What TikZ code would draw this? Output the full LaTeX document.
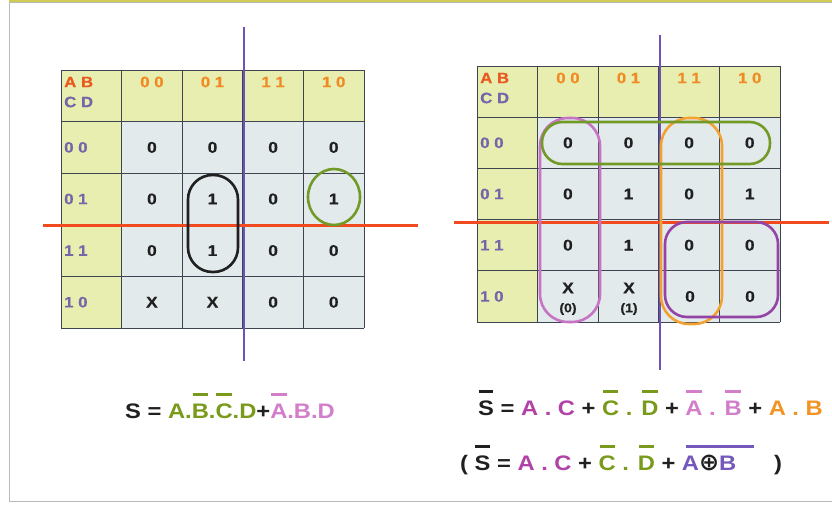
\documentclass[tikz,border=0pt]{standalone}
\usepackage{fontspec}
\setmainfont{Liberation Sans}
\newfontfamily\cellfont[FakeStretch=1.12, FakeBold=0.6]{Liberation Sans Bold}
\newfontfamily\eqfont[FakeStretch=1.13]{Liberation Sans Bold}
\newfontfamily\symfont{DejaVu Sans Bold}
\usetikzlibrary{calc}
\definecolor{hdrfill}{HTML}{E8EEB0}
\definecolor{cellfill}{HTML}{E3EAEC}
\definecolor{gridc}{HTML}{3E4450}
\definecolor{axpurple}{HTML}{7052B4}
\definecolor{axred}{HTML}{F04A1E}
\definecolor{hdrorange}{HTML}{F08A22}
\definecolor{hdrred}{HTML}{E85A20}
\definecolor{hdrpurple}{HTML}{7466A8}
\definecolor{eqgreen}{HTML}{7A9A1C}
\definecolor{eqpink}{HTML}{D27ECA}
\definecolor{eqmag}{HTML}{B042A8}
\definecolor{eqorange}{HTML}{F29424}
\definecolor{eqpurple}{HTML}{7458BC}
\definecolor{eqblack}{HTML}{202020}
\definecolor{loopgreen}{HTML}{729A26}
\definecolor{looppink}{HTML}{C674C4}
\definecolor{looporange}{HTML}{F2A232}
\definecolor{looppurple}{HTML}{9444A4}
\newcommand\obar[2]{{\setbox0\hbox{#2}\rlap{\hbox to\wd0{\hss\textcolor{#1}{\rule[1.06em]{0.9\wd0}{2.4pt}}\hss}}\box0}}
\tikzset{
  cell/.style={font=\cellfont\fontsize{15.5}{18}\selectfont, text=eqblack, inner sep=0pt},
  small/.style={font=\cellfont\fontsize{12.5}{14}\selectfont, text=eqblack, inner sep=0pt},
  hdr/.style={font=\cellfont\fontsize{15}{17}\selectfont, inner sep=0pt},
  eq/.style={font=\eqfont\fontsize{21}{24}\selectfont, text=eqblack, inner sep=0pt},
  axisv/.style={draw=axpurple, line width=2.4pt},
  axish/.style={draw=axred, line width=3pt},
  loopline/.style={line width=2.6pt},
}
\newcommand\drawmap[4]{%
  \fill[hdrfill] (#2,#3) rectangle ++(5*60.6,#4);
  \fill[hdrfill] (#2,#3) rectangle ++(60.6,5*#4);
  \fill[cellfill] (#2+60.6,#3+#4) rectangle ++(4*60.6,4*#4);
  \foreach \i in {0,...,5} {
    \draw[gridc, line width=1pt] (#2+\i*60.6,#3) -- ++(0,5*#4);
    \draw[gridc, line width=1pt] (#2,#3+\i*#4) -- ++(5*60.6,0);
  }
  \node[hdr, text=hdrred, anchor=west] (#1-ab) at (#2+3,#3+12) {A B};
  \node[hdr, text=hdrpurple, anchor=west] (#1-cd) at (#2+3,#3+32) {C D};
  \foreach \t [count=\c] in {0 0,0 1,1 1,1 0} {
    \node[hdr, text=hdrorange] (#1-h\c) at (#2+\c*60.6+30.3,#3+12) {\t};
    \node[hdr, text=hdrpurple, anchor=west] (#1-v\c) at (#2+3,#3+\c*#4+0.5*#4) {\t};
  }
}
\begin{document}
\begin{tikzpicture}[x=1pt,y=-1pt]
\useasboundingbox (0,0) rectangle (832,506);
\fill[white] (0,0) rectangle (832,506);
\draw[gray!55, line width=0.9pt] (832,2) -- (9,2) -- (9,501) -- (832,501);
\draw[yellow!60!gray, line width=1.2pt] (9,1) -- (832,1);

% ---------- left map ----------
\drawmap{L}{61}{70}{51.6}
\foreach \r/\vals in {1/{0,0,0,0},2/{0,1,0,1},3/{0,1,0,0},4/{X,X,0,0}} {
  \foreach \v [count=\c] in \vals {
    \node[cell] (L-\r-\c) at (61+\c*60.6+30.3,70+\r*51.6+25.8) {\v};
  }
}
\draw[axisv] (244,27) -- (244,361);
\draw[axish] (43,225) -- (418,225);
\draw[loopline, eqblack, rounded corners=24.5pt] (188,175) rectangle (238,272);
\draw[loopline, loopgreen] (334,197) ellipse [x radius=26, y radius=28];
\node[eq, anchor=base west] (eqL) at (125,418) {S = \textcolor{eqgreen}{A.\obar{eqgreen}{B}.\obar{eqgreen}{C}.D}+\textcolor{eqpink}{\obar{eqpink}{A}.B.D}};

% ---------- right map ----------
\drawmap{R}{477}{66}{51.2}
\foreach \r/\vals in {1/{0,0,0,0},2/{0,1,0,1},3/{0,1,0,0}} {
  \foreach \v [count=\c] in \vals {
    \node[cell] (R-\r-\c) at (477+\c*60.6+30.3,66+\r*51.2+25.6) {\v};
  }
}
\node[cell] (R-4-1) at (568,288) {X};
\node[small] (R-4-1b) at (568,309) {(0)};
\node[cell] (R-4-2) at (629,288) {X};
\node[small] (R-4-2b) at (629,309) {(1)};
\node[cell] (R-4-3) at (690,296.5) {0};
\node[cell] (R-4-4) at (750,296.5) {0};
\draw[axisv] (660,35) -- (660,370);
\draw[axish] (454,222) -- (829,222);
\draw[loopline, looppink, rounded corners=28pt] (540,118) rectangle (600,322);
\draw[loopline, looporange, rounded corners=28pt] (661,118) rectangle (722,324);
\draw[loopline, loopgreen, rounded corners=20.5pt] (542,122) rectangle (770,164);
\draw[loopline, looppurple, rounded corners=22pt] (665,222) rectangle (778,317);

\node[eq, anchor=base west] (eqR1) at (478,415) {\obar{eqblack}{S} = \textcolor{eqmag}{A . C} + \textcolor{eqgreen}{\obar{eqgreen}{C} . \obar{eqgreen}{D}} + \textcolor{eqpink}{\obar{eqpink}{A} . \obar{eqpink}{B}} + \textcolor{eqorange}{A . B}};
\node[eq, anchor=base west] (eqR2) at (460,470) {( \obar{eqblack}{S} = \textcolor{eqmag}{A . C} + \textcolor{eqgreen}{\obar{eqgreen}{C} . \obar{eqgreen}{D}} + \obar{eqpurple}{\textcolor{eqpurple}{A}{\symfont\fontsize{24}{24}\selectfont ⊕}\textcolor{eqpurple}{B}\hspace{1.0em}}\hspace{0.8em})};
\end{tikzpicture}
\end{document}
